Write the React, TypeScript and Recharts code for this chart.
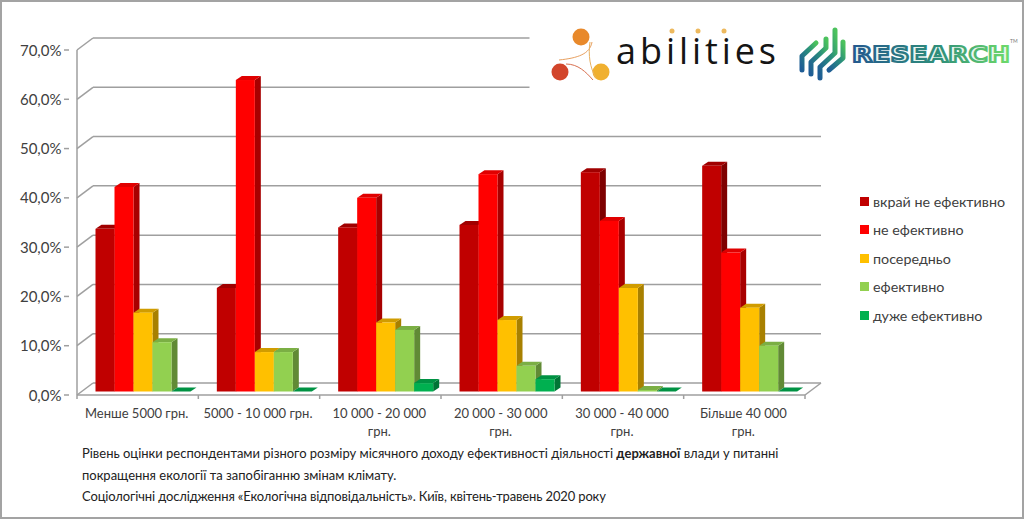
import { BarChart, Bar, XAxis, YAxis, CartesianGrid, Legend } from 'recharts'

const categories = [
  'Менше 5000 грн.',
  '5000 - 10 000 грн.',
  '10 000 - 20 000\nгрн.',
  '20 000 - 30 000\nгрн.',
  '30 000 - 40 000\nгрн.',
  'Більше 40 000\nгрн.',
]
const seriesNames = ['вкрай не ефективно', 'не ефективно', 'посередньо', 'ефективно', 'дуже ефективно']
const veryIneffective = [33.0, 21.0, 33.3, 33.8, 44.5, 45.8]
const ineffective = [41.5, 63.2, 39.3, 44.1, 34.6, 28.2]
const average = [16.0, 8.0, 14.0, 14.5, 21.0, 17.0]
const effective = [10.0, 8.0, 12.5, 5.2, 0.3, 9.3]
const veryEffective = [0.0, 0.0, 1.7, 2.5, 0.0, 0.0]
const yTicks = [0, 10, 20, 30, 40, 50, 60, 70]

const data = categories.map((name, i) => ({
  name,
  s0: veryIneffective[i],
  s1: ineffective[i],
  s2: average[i],
  s3: effective[i],
  s4: veryEffective[i],
}))

const palette = [
  { front: '#C00000', top: '#A00000', side: '#7E0000' },
  { front: '#FF0000', top: '#E00000', side: '#A80000' },
  { front: '#FFC000', top: '#D09C00', side: '#A88000' },
  { front: '#92D050', top: '#7BAF44', side: '#618A35' },
  { front: '#00B050', top: '#009243', side: '#007535' },
]

const FONT = 'Lato, sans-serif'
const GRID = '#9f9f9f'
const TEXT = '#404040'
const LEFT = 77
const RIGHT = 805
const BAND = (RIGHT - LEFT) / categories.length
const DEPTH_X = 16
const DEPTH_Y = 12
const AXIS_DROP = 3.5 // front axis sits a bit below the bars' feet

const bar3d = (colors: { front: string; top: string; side: string }) => (props: any) => {
  const { y, width, height } = props
  const x = props.x + 5.5
  const dx = 6
  const dy = 4
  return (
    <g>
      <polygon
        points={`${x + width},${y} ${x + width + dx},${y - dy} ${x + width + dx},${y + height - dy} ${x + width},${y + height}`}
        fill={colors.side}
      />
      <polygon
        points={`${x},${y} ${x + dx},${y - dy} ${x + width + dx},${y - dy} ${x + width},${y}`}
        fill={colors.top}
      />
      <rect x={x} y={y} width={width} height={height} fill={colors.front} />
    </g>
  )
}

const gridLine = (props: any) => {
  const y = props.y1 + AXIS_DROP
  const isFloor = Math.abs(props.y1 - 391.5) < 1
  return (
    <g key={`grid-${props.y1}`} stroke={GRID} strokeWidth={1.5} fill="none">
      <line x1={LEFT} y1={y} x2={LEFT + DEPTH_X} y2={y - DEPTH_Y} />
      <line x1={LEFT + DEPTH_X} y1={y - DEPTH_Y} x2={RIGHT + DEPTH_X} y2={y - DEPTH_Y} />
      {isFloor && <line x1={RIGHT} y1={y} x2={RIGHT + DEPTH_X} y2={y - DEPTH_Y} />}
    </g>
  )
}

const YTick = ({ x, y, payload }: any) => (
  <g>
    <line x1={x - 5} y1={y + AXIS_DROP} x2={x} y2={y + AXIS_DROP} stroke={GRID} strokeWidth={1.5} />
    <text x={61.5} y={y + AXIS_DROP + 5.5} textAnchor="end" fontFamily={FONT} fontSize={15} fill={TEXT}>
      {payload.value.toFixed(1).replace('.', ',')}%
    </text>
  </g>
)

const XTick = ({ x, payload, index }: any) => {
  const lines = String(payload.value).split('\n')
  const axisY = 391.5 + AXIS_DROP
  return (
    <g>
      <line x1={x - BAND / 2} y1={axisY} x2={x - BAND / 2} y2={axisY + 4} stroke={GRID} strokeWidth={1.5} />
      {index === categories.length - 1 && (
        <line x1={x + BAND / 2} y1={axisY} x2={x + BAND / 2} y2={axisY + 4} stroke={GRID} strokeWidth={1.5} />
      )}
      {lines.map((line: string, i: number) => (
        <text key={i} x={x - 1} y={418 + i * 17.5} textAnchor="middle" fontFamily={FONT} fontSize={13} fill={TEXT}>
          {line}
        </text>
      ))}
    </g>
  )
}

const LegendBox = () => (
  <div style={{ fontFamily: FONT, fontSize: 14.3, color: TEXT }}>
    {seriesNames.map((name, i) => (
      <div key={name} style={{ height: 28.5, display: 'flex', alignItems: 'center', whiteSpace: 'nowrap' }}>
        <span style={{ width: 9, height: 9, background: palette[i].front, marginRight: 4, flex: 'none' }} />
        {name}
      </div>
    ))}
  </div>
)

const Logos = () => (
  <svg width={1024} height={519} style={{ position: 'absolute', left: 0, top: 0 }}>
    <defs>
      <linearGradient id="brand" x1="0" x2="1" y1="0" y2="0">
        <stop offset="0" stopColor="#24588f" />
        <stop offset="0.55" stopColor="#2f8f7a" />
        <stop offset="1" stopColor="#6fdc6a" />
      </linearGradient>
      <linearGradient id="stripe" x1="0" x2="1" y1="1" y2="0">
        <stop offset="0" stopColor="#1f5c96" />
        <stop offset="0.6" stopColor="#2a8f7c" />
        <stop offset="1" stopColor="#4cc35c" />
      </linearGradient>
    </defs>
    <rect x={529.5} y={20} width={300} height={76} fill="#fff" />
    {/* abilities */}
    <circle cx={581} cy={37} r={8.5} fill="#E8892B" />
    <circle cx={560} cy={72} r={8.5} fill="#D2452B" />
    <circle cx={601} cy={72} r={8.5} fill="#F0B030" />
    <path d="M592 42 C 590 54 578 58 559 60" stroke="#E8A060" strokeWidth={1} fill="none" />
    <path d="M590 42 C 588 55 590 68 596 78" stroke="#E8B060" strokeWidth={1} fill="none" />
    <path d="M566 64 C 578 64 586 72 593 80" stroke="#D87050" strokeWidth={1} fill="none" />
    <circle cx={672} cy={31} r={2.5} fill="#EDB95E" />
    <circle cx={698} cy={31} r={2.5} fill="#EDB95E" />
    <circle cx={724} cy={31} r={2.5} fill="#EDB95E" />
    <text x={616} y={64} fontFamily="'Open Sans', sans-serif" fontSize={36} fill="#151515" textLength={160} lengthAdjust="spacing">
      abilities
    </text>
    {/* research */}
    <g stroke="url(#stripe)" strokeWidth={5} fill="none" strokeLinejoin="round" strokeLinecap="round">
      <path d="M802 70 L802 56 L816 43" />
      <path d="M811 74 L811 62 L826 48 L826 39" />
      <path d="M820 78 L820 67 L835 53 L835 30" />
      <path d="M829 70 L843 58 L843 42" />
    </g>
    <text x={852} y={62} fontFamily="'DejaVu Sans', sans-serif" fontWeight={700} fontSize={22} fill="#e9f5f0" stroke="url(#brand)" strokeWidth={2.2} textLength={158} lengthAdjust="spacingAndGlyphs">
      RESEARCH
    </text>
    <text x={1010} y={43} fontFamily={FONT} fontSize={5} fill="#777">TM</text>
  </svg>
)

export default function App() {
  return (
    <div style={{ position: 'absolute', left: 0, top: 0, width: 1024, height: 519, background: '#fff', boxShadow: 'inset 0 0 0 2px #a3a3a3', overflow: 'hidden' }}>
      <BarChart
        width={1024}
        height={519}
        data={data}
        barSize={19}
        barGap={0}
        margin={{ top: 46.5, right: 219, bottom: 67.5, left: 0 }}
      >
        <CartesianGrid vertical={false} horizontal={gridLine} />
        <XAxis
          dataKey="name"
          interval={0}
          height={60}
          tick={<XTick />}
          tickLine={false}
          axisLine={{ stroke: GRID, strokeWidth: 1.5, transform: `translate(0,${AXIS_DROP})` }}
        />
        <YAxis
          width={77}
          domain={[0, 70]}
          ticks={yTicks}
          tick={<YTick />}
          tickLine={false}
          axisLine={{ stroke: GRID, strokeWidth: 1.5, transform: `translate(0,${AXIS_DROP})` }}
        />
        <Legend
          layout="horizontal"
          verticalAlign="middle"
          content={<LegendBox />}
          wrapperStyle={{ left: 860, top: 187, width: 160, bottom: 'auto' }}
        />
        {seriesNames.map((name, i) => (
          <Bar key={name} dataKey={`s${i}`} name={name} shape={bar3d(palette[i])} isAnimationActive={false} />
        ))}
      </BarChart>
      <Logos />
      <div style={{ position: 'absolute', left: 82, top: 443, width: 720, fontFamily: FONT, fontSize: 12.97, lineHeight: '21.5px', color: '#222' }}>
        <div style={{ whiteSpace: 'nowrap' }}>
          Рівень оцінки респондентами різного розміру місячного доходу ефективності діяльності <b>державної</b> влади у питанні
        </div>
        <div>покращення екології та запобіганню змінам клімату.</div>
        <div style={{ letterSpacing: -0.13, whiteSpace: 'nowrap' }}>Соціологічні дослідження «Екологічна відповідальність». Київ, квітень-травень 2020 року</div>
      </div>
    </div>
  )
}
